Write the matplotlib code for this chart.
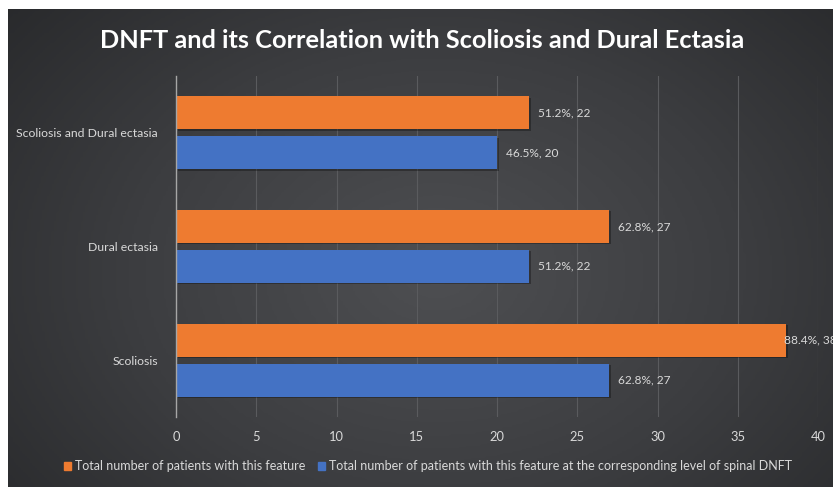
import numpy as np
import matplotlib
matplotlib.use("Agg")
import matplotlib.pyplot as plt
from matplotlib.colors import LinearSegmentedColormap
from matplotlib.patches import Patch

categories = ["Scoliosis", "Dural ectasia", "Scoliosis and Dural ectasia"]
total_feature = [38, 27, 22]
total_feature_pct = [88.4, 62.8, 51.2]
level_feature = [27, 22, 20]
level_feature_pct = [62.8, 51.2, 46.5]
xticks = [0, 5, 10, 15, 20, 25, 30, 35, 40]
title = "DNFT and its Correlation with Scoliosis and Dural Ectasia"
legend_labels = ["Total number of patients with this feature",
                 "Total number of patients with this feature at the corresponding level of spinal DNFT"]

W, H = 833, 487
fig = plt.figure(figsize=(W / 100, H / 100), dpi=100, facecolor="white")

# dark gradient panel
bg = fig.add_axes([8 / W, 0, 1 - 8 / W, 1 - 9 / H])
bg.set_axis_off()
ny, nx = 200, 340
yy, xx = np.mgrid[0:1:ny * 1j, 0:1:nx * 1j]
r = np.sqrt(((xx - 0.52) / 0.75) ** 2 + ((yy - 0.45) / 0.95) ** 2)
r = np.clip(r, 0, 1)
cmap = LinearSegmentedColormap.from_list("bg", ["#4e4f52", "#3c3d40", "#252628"])
bg.imshow(r, cmap=cmap, aspect="auto", extent=[0, 1, 0, 1], origin="lower", vmin=0, vmax=1)
bg.set_xlim(0, 1)
bg.set_ylim(0, 1)

ax = fig.add_axes([176 / W, 1 - 417 / H, (818 - 176) / W, 341 / H])
ax.set_facecolor("none")
y = np.arange(len(categories))
h = 0.29
off = 0.175
c_or = "#ee7b30"
c_bl = "#4472c4"
# subtle shadows
ax.barh(y + off - 0.012, total_feature, height=h, left=0.1, color="black", alpha=0.3, zorder=2)
ax.barh(y - off - 0.012, level_feature, height=h, left=0.1, color="black", alpha=0.3, zorder=2)
ax.barh(y + off, total_feature, height=h, color=c_or, zorder=3)
ax.barh(y - off, level_feature, height=h, color=c_bl, zorder=3)

lab_col = "#d9d9d9"
fam = ["Lato", "DejaVu Sans"]
for i in range(len(categories)):
    dx = 0.55 if total_feature[i] < 36 else -0.1
    ax.text(total_feature[i] + dx, y[i] + off, f"{total_feature_pct[i]}%, {total_feature[i]}",
            va="center", ha="left", color=lab_col, fontsize=8.6, family=fam, clip_on=False, zorder=4)
    ax.text(level_feature[i] + 0.55, y[i] - off, f"{level_feature_pct[i]}%, {level_feature[i]}",
            va="center", ha="left", color=lab_col, fontsize=8.6, family=fam, clip_on=False, zorder=4)

ax.set_xlim(0, 40)
ax.set_ylim(-0.5, 2.5)
ax.set_xticks(xticks)
ax.set_xticklabels([str(t) for t in xticks], color=lab_col, fontsize=9.3, family=fam)
ax.set_yticks(y)
ax.set_yticklabels(categories, color=lab_col, fontsize=8.8, family=fam)
ax.tick_params(axis="y", length=0, pad=13)
ax.tick_params(axis="x", length=0, pad=10)
ax.xaxis.grid(True, color="#5a5b5e", linewidth=0.8, zorder=0)
ax.set_axisbelow(True)
for s in ["top", "right", "bottom"]:
    ax.spines[s].set_visible(False)
ax.spines["left"].set_color("#a6a6a6")
ax.spines["left"].set_linewidth(1.0)
ax.spines["left"].set_zorder(5)

fig.text(422 / W, 1 - 41 / H, title, ha="center", va="center", color="white",
         fontsize=18.3, fontweight="bold", family=fam)

handles = [Patch(color=c_or), Patch(color=c_bl)]
leg = fig.legend(handles, legend_labels, loc="center", bbox_to_anchor=(428 / W, 1 - 466 / H),
                 ncol=2, frameon=False, handlelength=0.6, handleheight=0.6,
                 handletextpad=0.3, columnspacing=1.0, prop={"family": fam, "size": 9})
for t in leg.get_texts():
    t.set_color(lab_col)

fig.savefig("out.png", dpi=100, facecolor="white")
